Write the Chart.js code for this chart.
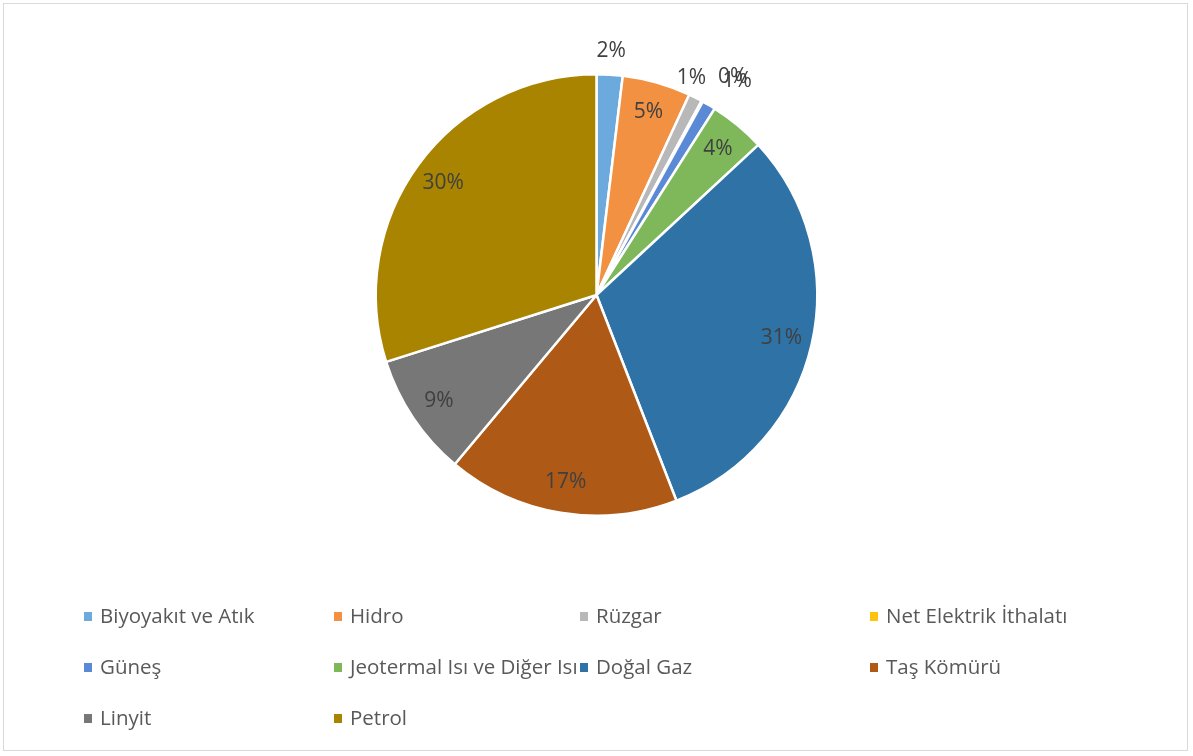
<!DOCTYPE html>
<html>
<head>
<meta charset="utf-8">
<script src="https://cdn.jsdelivr.net/npm/chart.js@4.4.1/dist/chart.umd.min.js"></script>
<style>
  html, body { margin: 0; padding: 0; background: #fff; }
  #wrap { position: relative; width: 1193px; height: 756px; overflow: hidden; }
  #frame { position: absolute; left: 3px; top: 3px; width: 1185px; height: 748px; border: 1px solid #d9d9d9; box-sizing: border-box; }
  #grafico { position: absolute; left: 0; top: 0; }
  #legenda { position: absolute; left: 84px; top: 597px; font-family: "Open Sans", sans-serif; font-size: 20.5px; color: #595959; }
  .item { position: absolute; white-space: nowrap; height: 36px; line-height: 36px; }
  .item span.box { display: inline-block; width: 8px; height: 9px; margin-right: 8px; vertical-align: 2px; }
</style>
</head>
<body>
<div id="wrap">
  <div id="frame"></div>
  <canvas id="grafico" width="1193" height="756"></canvas>
  <div id="legenda"></div>
</div>
<script>
var tipos = ["Biyoyakıt ve Atık", "Hidro", "Rüzgar", "Net Elektrik İthalatı", "Güneş",
             "Jeotermal Isı ve Diğer Isı", "Doğal Gaz", "Taş Kömürü", "Linyit", "Petrol"];
var valores = [1.9, 5.0, 1.0, 0.1, 1.0, 4.1, 31.0, 17.0, 9.0, 29.9];
var rotulos = ["2%", "5%", "1%", "0%", "1%", "4%", "31%", "17%", "9%", "30%"];
var cores = ["#6CA9DC", "#F29142", "#B8B8B8", "#FFC30F", "#5A8AD6",
             "#7EB85A", "#2E72A6", "#AE5A16", "#777777", "#A98400"];

// rotulos de porcentagem desenhados sobre as fatias
var rotulosPlugin = {
    id: 'rotulos',
    afterDatasetsDraw: function (chart) {
        var ctx = chart.ctx;
        var meta = chart.getDatasetMeta(0);
        // fatias pequenas ficam do lado de fora (distancia extra, deslocamento x)
        var fora = { 0: [24, 0], 2: [22, -14], 3: [28, 17], 4: [28, 14] };
        ctx.save();
        ctx.font = '21px "Open Sans", sans-serif';
        ctx.fillStyle = '#404040';
        ctx.textAlign = 'center';
        ctx.textBaseline = 'middle';
        meta.data.forEach(function (arc, i) {
            var p = arc.getProps(['x', 'y', 'startAngle', 'endAngle', 'outerRadius']);
            var meio = (p.startAngle + p.endAngle) / 2;
            var dist = p.outerRadius * 0.86;
            var dx = 0;
            if (fora[i]) {
                dist = p.outerRadius + fora[i][0];
                dx = fora[i][1];
            }
            ctx.fillText(rotulos[i], p.x + Math.cos(meio) * dist + dx, p.y + Math.sin(meio) * dist);
        });
        ctx.restore();
    }
};

var ctx = document.getElementById('grafico').getContext('2d');
var grafico = new Chart(ctx, {
    type: 'pie',
    data: {
        labels: tipos,
        datasets: [{
            data: valores,
            backgroundColor: cores,
            borderColor: '#ffffff',
            borderWidth: 2.5
        }]
    },
    options: {
        responsive: false,
        animation: false,
        layout: { padding: { top: 73, bottom: 239, left: 0, right: 0 } },
        plugins: {
            legend: { display: false },
            tooltip: { enabled: false }
        }
    },
    plugins: [rotulosPlugin]
});

// legenda em grade, como no original
var colunas = [0, 250, 496, 786];
var linhas = [0, 51, 102];
var legenda = document.getElementById('legenda');
tipos.forEach(function (t, i) {
    var d = document.createElement('div');
    d.className = 'item';
    d.style.left = colunas[i % 4] + 'px';
    d.style.top = linhas[Math.floor(i / 4)] + 'px';
    d.innerHTML = '<span class="box" style="background:' + cores[i] + '"></span>' + t;
    legenda.appendChild(d);
});
</script>
</body>
</html>
